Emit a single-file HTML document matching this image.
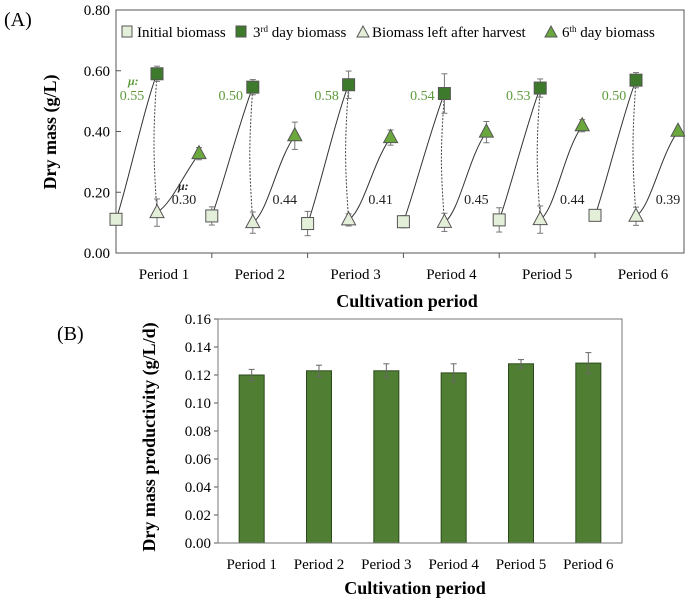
<!DOCTYPE html>
<html><head><meta charset="utf-8"><style>
body{margin:0;background:#fff;}
svg{display:block;font-family:"Liberation Serif",serif;}
</style></head><body>
<svg id="c" width="685" height="603" viewBox="0 0 685 603" xmlns="http://www.w3.org/2000/svg"></svg>
<script>
// Chart A data
const periods = ["Period 1","Period 2","Period 3","Period 4","Period 5","Period 6"];
const initialBiomass = [0.111,0.122,0.097,0.103,0.109,0.124];
const initialErr = [0.01,0.03,0.04,0.02,0.04,0.01];
const day3Biomass = [0.590,0.546,0.554,0.525,0.543,0.569];
const day3Err = [0.025,0.025,0.045,0.065,0.03,0.025];
const leftBiomass = [0.133,0.100,0.109,0.101,0.110,0.121];
const leftErr = [0.045,0.035,0.02,0.03,0.045,0.03];
const day6Biomass = [0.327,0.386,0.380,0.398,0.419,0.401];
const day6Err = [0.02,0.045,0.025,0.035,0.02,0.01];
const muGreen = ["0.55","0.50","0.58","0.54","0.53","0.50"];
const muBlack = ["0.30","0.44","0.41","0.45","0.44","0.39"];
const yTicksA = [0,0.2,0.4,0.6,0.8];
// Chart B data
const productivity = [0.120,0.123,0.123,0.1215,0.128,0.1285];
const productivityErr = [0.004,0.004,0.005,0.0065,0.003,0.0075];
const yTicksB = [0,0.02,0.04,0.06,0.08,0.10,0.12,0.14,0.16];

const svg=document.getElementById('c');
const NS="http://www.w3.org/2000/svg";
function mk(tag,attrs,parent,text){const e=document.createElementNS(NS,tag);for(const k in attrs)e.setAttribute(k,attrs[k]);if(text!==undefined)e.textContent=text;(parent||svg).appendChild(e);return e;}

// ---- Chart A ----
const A={l:116,r:684,t:10,b:253,pw:95.8};
const yA=v=>A.b-(v/0.8)*(A.b-A.t);
const xA=(i,off)=>A.l+i*A.pw+off;
const gA=mk('g',{});


let t=mk('text',{x:4,y:26,'font-size':20},gA,'(A)');

let fr=mk('rect',{x:A.l,y:A.t,width:A.r-A.l,height:A.b-A.t,fill:'none',stroke:'#555','stroke-width':1},gA);

yTicksA.forEach(v=>{
  mk('line',{x1:A.l,x2:A.l+5,y1:yA(v),y2:yA(v),stroke:'#555'},gA);
  const tl=mk('text',{x:A.l-6,y:yA(v)+5,'font-size':15,'text-anchor':'end'},gA,v.toFixed(2));
  
});
periods.forEach((p,i)=>{
  if(i>0)mk('line',{x1:xA(i,0),x2:xA(i,0),y1:A.b,y2:A.b+5,stroke:'#555'},gA);
  const tl=mk('text',{x:xA(i,48),y:279,'font-size':15,'text-anchor':'middle'},gA,p);
  
});
let yt=mk('text',{transform:'translate(56,132) rotate(-90)','font-size':18,'font-weight':'bold','text-anchor':'middle'},gA,'Dry mass  (g/L)');

let xt=mk('text',{x:407,y:307,'font-size':18,'font-weight':'bold','text-anchor':'middle'},gA,'Cultivation period');


function errbar(g,x,v,e){
  mk('line',{x1:x,x2:x,y1:yA(v-e),y2:yA(v+e),stroke:'#777','stroke-width':1},g);
  mk('line',{x1:x-3,x2:x+3,y1:yA(v-e),y2:yA(v-e),stroke:'#777'},g);
  mk('line',{x1:x-3,x2:x+3,y1:yA(v+e),y2:yA(v+e),stroke:'#777'},g);
}
function sq(g,x,v,fill,name){const r=mk('rect',{x:x-6,y:yA(v)-6,width:12,height:12,fill:fill,stroke:'#555','stroke-width':1},g);}
function tri(g,x,v,fill,name){const y=yA(v);const r=mk('polygon',{points:`${x},${y-8} ${x-7},${y+5} ${x+7},${y+5}`,fill:fill,stroke:'#555','stroke-width':1},g);}

periods.forEach((p,i)=>{
  const g=mk('g',{},gA);
  
  
  const x0=xA(i,0),x1=xA(i,41),x2=xA(i,83);
  mk('path',{d:`M${x0},${yA(initialBiomass[i])} C${x0+8},${yA(initialBiomass[i])-20} ${x1-12},${yA(day3Biomass[i])+30} ${x1},${yA(day3Biomass[i])}`,fill:'none',stroke:'#333','stroke-width':1},g);
  mk('path',{d:`M${x1},${yA(day3Biomass[i])} C${x1-4},${yA(day3Biomass[i])+60} ${x1-4},${yA(leftBiomass[i])-60} ${x1},${yA(leftBiomass[i])}`,fill:'none',stroke:'#444','stroke-width':1,'stroke-dasharray':'2,1.5'},g);
  mk('path',{d:`M${x1},${yA(leftBiomass[i])} C${x1+15},${yA(leftBiomass[i])-10} ${x2-18},${yA(day6Biomass[i])+25} ${x2},${yA(day6Biomass[i])}`,fill:'none',stroke:'#333','stroke-width':1},g);
  errbar(g,x0,initialBiomass[i],initialErr[i]);
  errbar(g,x1,day3Biomass[i],day3Err[i]);
  errbar(g,x1,leftBiomass[i],leftErr[i]);
  errbar(g,x2,day6Biomass[i],day6Err[i]);
  sq(g,x0,initialBiomass[i],'#e4efd9','initial-biomass-point');
  sq(g,x1,day3Biomass[i],'#3e7a2c','day3-biomass-point');
  tri(g,x1,leftBiomass[i],'#e4efd9','left-biomass-point');
  tri(g,x2,day6Biomass[i],'#6aa83e','day6-biomass-point');
  const mg=mk('text',{x:xA(i,i==0?16:19),y:100,'font-size':14,fill:'#5e9a3c','text-anchor':'middle'},g,muGreen[i]);
  
  const mb=mk('text',{x:xA(i,i==0?68:73),y:204,'font-size':14,fill:'#222','text-anchor':'middle'},g,muBlack[i]);
  
});
let m1=mk('text',{x:128,y:85,'font-size':12,'font-style':'italic','font-weight':'bold',fill:'#5e9a3c'},gA,'μ:');

let m2=mk('text',{x:178,y:190,'font-size':12,'font-style':'italic','font-weight':'bold',fill:'#222'},gA,'μ:');


// legend
const lg=mk('g',{},gA);

function legText(x,html,name){const e=mk('text',{x:x,y:37,'font-size':15},lg);e.innerHTML=html;}
mk('rect',{x:122,y:26,width:10,height:11,fill:'#e4efd9',stroke:'#555'},lg);
legText(137,'Initial biomass','legend-entry-initial');
mk('rect',{x:236,y:26,width:10,height:11,fill:'#3e7a2c',stroke:'#555'},lg);
legText(253,'3<tspan font-size="9" dy="-5">rd</tspan><tspan dy="5"> day biomass</tspan>','legend-entry-day3');
mk('polygon',{points:'363,26 357,37 369,37',fill:'#e4efd9',stroke:'#555'},lg);
legText(372,'Biomass left after harvest','legend-entry-left');
mk('polygon',{points:'551,26 545,37 557,37',fill:'#6aa83e',stroke:'#555'},lg);
legText(562,'6<tspan font-size="9" dy="-5">th</tspan><tspan dy="5"> day biomass</tspan>','legend-entry-day6');

// ---- Chart B ----
const B={l:218,r:622,t:319,b:543};
const yB=v=>B.b-(v/0.16)*(B.b-B.t);
const bw=(B.r-B.l)/6;
const gB=mk('g',{});

t=mk('text',{x:57,y:340,'font-size':20},gB,'(B)');

yTicksB.forEach(v=>{
  mk('line',{x1:B.l-4,x2:B.l,y1:yB(v),y2:yB(v),stroke:'#555'},gB);
  const tl=mk('text',{x:B.l-7,y:yB(v)+5,'font-size':15,'text-anchor':'end'},gB,v.toFixed(2));
  
});
productivity.forEach((v,i)=>{
  const cx=B.l+bw*(i+0.5);
  const r=mk('rect',{x:cx-12.5,y:yB(v),width:25,height:B.b-yB(v),fill:'#507f33',stroke:'#2b4a1b','stroke-width':1},gB);
  
  const e=productivityErr[i];
  mk('line',{x1:cx,x2:cx,y1:yB(v-e),y2:yB(v+e),stroke:'#666'},gB);
  mk('line',{x1:cx-3,x2:cx+3,y1:yB(v+e),y2:yB(v+e),stroke:'#666'},gB);
  mk('line',{x1:cx-3,x2:cx+3,y1:yB(v-e),y2:yB(v-e),stroke:'#666'},gB);
  const tl=mk('text',{x:cx,y:569,'font-size':15,'text-anchor':'middle'},gB,periods[i]);
  
});
fr=mk('rect',{x:B.l,y:B.t,width:B.r-B.l,height:B.b-B.t,fill:'none',stroke:'#777'},gB);

yt=mk('text',{transform:'translate(155,437) rotate(-90)','font-size':18,'font-weight':'bold','text-anchor':'middle'},gB,'Dry mass  productivity (g/L/d)');

xt=mk('text',{x:415,y:594,'font-size':18,'font-weight':'bold','text-anchor':'middle'},gB,'Cultivation period');

</script>
</body></html>
